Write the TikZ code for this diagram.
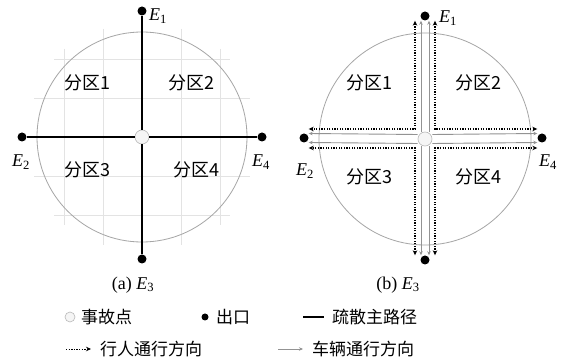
\documentclass[tikz,border=0pt]{standalone}
\usepackage{fontspec}
\setmainfont{Liberation Serif}
\newfontfamily\cjk{Noto Sans CJK SC}
\usetikzlibrary{arrows.meta}

\tikzset{
  pedtip/.tip = {Stealth[length=5pt, width=4.5pt]},
  cartip/.tip = {Stealth[length=4pt, width=3.5pt]}
}

\begin{document}
\begin{tikzpicture}[
    x = 1pt, y = -1pt,
    outline/.style = {draw = gray!70, line width = 0.8pt},
    gridline/.style = {draw = gray!22, line width = 0.7pt},
    mainpath/.style = {draw = black, line width = 2pt},
    exit/.style = {
      circle, fill = black, inner sep = 0pt,
      minimum size = 9pt
    },
    accident/.style = {
      circle, draw = gray!55, fill = gray!8,
      line width = 0.6pt, inner sep = 0pt,
      minimum size = 14pt
    },
    zone/.style = {font = \cjk\fontsize{18}{20}\selectfont, inner sep = 0pt},
    elabel/.style = {font = \fontsize{18}{20}\selectfont, inner sep = 0pt},
    legtext/.style = {
      font = \cjk\fontsize{17}{20}\selectfont,
      anchor = west, inner sep = 0pt
    },
    ped/.style = {draw = black, line width = 1.1pt, dash pattern = on 1.3pt off 1.3pt},
    car/.style = {draw = gray!85, line width = 0.9pt}
  ]

  \useasboundingbox[fill = white] (0,0) rectangle (566,358);

  % ---- (a) main evacuation paths ----
  \coordinate (oa) at (142,137);
  \begin{scope}[shift = {(oa)}]
    \foreach \d/\l in {-78/88, -39/108, 39/108, 78/88} {
      \draw[gridline] (\d,-\l) -- (\d,\l);
      \draw[gridline] (-\l,\d) -- (\l,\d);
    }
  \end{scope}
  \draw[outline] (oa) circle[radius = 105];

  \node[exit] (a1) at (142,11)  {};
  \node[exit] (a2) at (22,137)  {};
  \node[exit] (a3) at (142,259) {};
  \node[exit] (a4) at (262,137) {};
  \node[accident] (ca) at (oa) {};

  \draw[mainpath] (ca) -- (a1);
  \draw[mainpath] (ca) -- (a2);
  \draw[mainpath] (ca) -- (a3);
  \draw[mainpath] (ca) -- (a4);

  \node[zone] (za1) at (87,83)   {分区1};
  \node[zone] (za2) at (191,83)  {分区2};
  \node[zone] (za3) at (87,170)  {分区3};
  \node[zone] (za4) at (196,170) {分区4};

  \node[elabel] (la1) at (158,16)  {\textit{E}\textsubscript{1}};
  \node[elabel] (la2) at (21,162)  {\textit{E}\textsubscript{2}};
  \node[elabel] (la4) at (261,162) {\textit{E}\textsubscript{4}};
  \node[elabel] (capa) at (133,285) {(a) \textit{E}\textsubscript{3}};

  % ---- (b) traffic directions ----
  \coordinate (ob) at (425,139);
  \draw[outline] (ob) circle[radius = 106];

  \node[exit] (b1) at (425,16)  {};
  \node[exit] (b2) at (304,138) {};
  \node[exit] (b3) at (425,260) {};
  \node[exit] (b4) at (542,138) {};
  \node[accident] (cb) at (ob) {};

  % pedestrians
  \draw[ped, pedtip-pedtip] ([xshift=-10pt]b1.south) |- ([yshift=9pt]b2.east);
  \draw[ped, pedtip-pedtip] ([xshift=10pt]b1.south)  |- ([yshift=9pt]b4.west);
  \draw[ped, pedtip-pedtip] ([xshift=-10pt]b3.north) |- ([yshift=-10pt]b2.east);
  \draw[ped, pedtip-pedtip] ([xshift=10pt]b3.north)  |- ([yshift=-10pt]b4.west);

  % vehicles
  \draw[car, -cartip] ([xshift=-4pt]cb.north) -- ([xshift=-4pt]b1.south);
  \draw[car, -cartip] ([xshift=4pt]cb.north)  -- ([xshift=4pt]b1.south);
  \draw[car, -cartip] ([xshift=-4pt]cb.south) -- ([xshift=-4pt]b3.north);
  \draw[car, -cartip] ([xshift=4pt]cb.south)  -- ([xshift=4pt]b3.north);
  \draw[car, -cartip] ([yshift=4.5pt]cb.west)  -- ([yshift=4.5pt]b2.east);
  \draw[car, -cartip] ([yshift=-4.5pt]cb.west) -- ([yshift=-4.5pt]b2.east);
  \draw[car, -cartip] ([yshift=4.5pt]cb.east)  -- ([yshift=4.5pt]b4.west);
  \draw[car, -cartip] ([yshift=-4.5pt]cb.east) -- ([yshift=-4.5pt]b4.west);

  \node[zone] (zb1) at (369,83)  {分区1};
  \node[zone] (zb2) at (478,83)  {分区2};
  \node[zone] (zb3) at (369,177) {分区3};
  \node[zone] (zb4) at (478,177) {分区4};

  \node[elabel] (lb1) at (448,18)  {\textit{E}\textsubscript{1}};
  \node[elabel] (lb2) at (305,171) {\textit{E}\textsubscript{2}};
  \node[elabel] (lb4) at (548,162) {\textit{E}\textsubscript{4}};
  \node[elabel] (capb) at (398,285) {(b) \textit{E}\textsubscript{3}};

  % ---- legend ----
  \node[accident, minimum size = 10pt] (lgacc) at (70,317) {};
  \node[legtext] (lgacctext) at (81,317) {事故点};
  \node[exit, minimum size = 7pt] (lgexit) at (205,317) {};
  \node[legtext] (lgexittext) at (216,317) {出口};
  \coordinate (lgpathA) at (303,317);
  \coordinate (lgpathB) at (324,317);
  \draw[mainpath] (lgpathA) -- (lgpathB);
  \node[legtext] (lgpathtext) at (332,317) {疏散主路径};

  \coordinate (lgpedA) at (66,349);
  \coordinate (lgpedB) at (91,349);
  \draw[ped, line width = 0.8pt, -pedtip] (lgpedA) -- (lgpedB);
  \node[legtext] (lgpedtext) at (100,349) {行人通行方向};
  \coordinate (lgcarA) at (278,349);
  \coordinate (lgcarB) at (303,349);
  \draw[car, -cartip] (lgcarA) -- (lgcarB);
  \node[legtext] (lgcartext) at (312,349) {车辆通行方向};

\end{tikzpicture}
\end{document}
